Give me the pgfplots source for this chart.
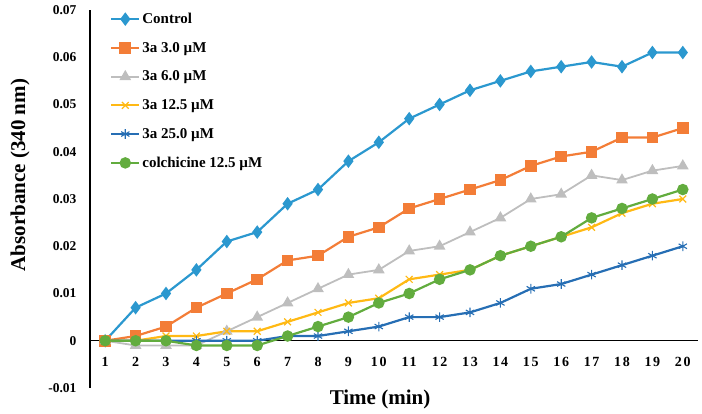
\documentclass[border=0pt]{standalone}
\usepackage{pgfplots}
\pgfplotsset{compat=1.18}
\usepackage{fontspec}
\setmainfont{Liberation Serif}
\newfontfamily\xtickfont[LetterSpace=12]{Liberation Serif}
\definecolor{cCtrl}{RGB}{43,152,207}
\definecolor{cOr}{RGB}{243,125,55}
\definecolor{cGr}{RGB}{190,190,190}
\definecolor{cYe}{RGB}{255,185,20}
\definecolor{cDb}{RGB}{38,110,180}
\definecolor{cGn}{RGB}{98,172,62}
\begin{document}
\begin{tikzpicture}
\useasboundingbox (-90pt,-26pt) rectangle (612pt,388pt);
\begin{axis}[
  at={(0pt,0pt)}, anchor=south west,
  scale only axis, width=608pt, height=378pt,
  xmin=0.5, xmax=20.5, ymin=-0.01, ymax=0.07,
  axis x line=middle, axis y line=left,
  axis line style={black, line width=1.3pt, -},
  xtick={1,...,20}, ytick={-0.01,0,0.01,0.02,0.03,0.04,0.05,0.06,0.07},
  yticklabels={-0.01,0,0.01,0.02,0.03,0.04,0.05,0.06,0.07},
  scaled y ticks=false,
  major tick length=0pt,
  /pgf/number format/assume math mode=true,
  yticklabel style={font=\fontsize{13.5}{13.5}\selectfont\bfseries, xshift=-10pt},
  xticklabel style={font=\fontsize{14}{14}\selectfont\xtickfont\bfseries, yshift=-13pt},
  xlabel={Time (min)}, ylabel={Absorbance (340 nm)},
  label style={font=\fontsize{21}{21}\selectfont\bfseries},
  xlabel style={at={(axis description cs:0.477,0)}, anchor=base, yshift=-17pt},
  ylabel style={at={(axis description cs:0,0.563)}, anchor=center, yshift=70pt},
  legend style={at={(20pt,377pt)}, anchor=north west, draw=none, fill=none,
    font=\fontsize{15}{15}\selectfont\bfseries, row sep=13.2pt, inner sep=0pt,
    nodes={inner sep=2pt}},
  legend cell align=left,
  legend image code/.code={\draw[mark repeat=2,mark phase=2] plot coordinates {(0pt,0pt) (14pt,0pt) (28pt,0pt)};},
  every axis plot/.append style={line width=2.2pt},
  clip=false,
]
\addplot[cCtrl, mark=diamond*, mark size=5pt, mark options={solid}] coordinates {
(1,0) (2,0.007) (3,0.010) (4,0.015) (5,0.021) (6,0.023) (7,0.029) (8,0.032) (9,0.038) (10,0.042)
(11,0.047) (12,0.050) (13,0.053) (14,0.055) (15,0.057) (16,0.058) (17,0.059) (18,0.058) (19,0.061) (20,0.061)};
\addlegendentry{Control}
\addplot[cOr, mark=square*, mark size=4.7pt] coordinates {
(1,0) (2,0.001) (3,0.003) (4,0.007) (5,0.010) (6,0.013) (7,0.017) (8,0.018) (9,0.022) (10,0.024)
(11,0.028) (12,0.030) (13,0.032) (14,0.034) (15,0.037) (16,0.039) (17,0.040) (18,0.043) (19,0.043) (20,0.045)};
\addlegendentry{3a 3.0 µM}
\addplot[cGr, mark=triangle*, mark size=5pt, line width=1.8pt] coordinates {
(1,0) (2,-0.001) (3,-0.001) (4,-0.001) (5,0.002) (6,0.005) (7,0.008) (8,0.011) (9,0.014) (10,0.015)
(11,0.019) (12,0.020) (13,0.023) (14,0.026) (15,0.030) (16,0.031) (17,0.035) (18,0.034) (19,0.036) (20,0.037)};
\addlegendentry{3a 6.0 µM}
\addplot[cYe, mark=x, mark size=4.8pt, mark options={line width=1.2pt}] coordinates {
(1,0) (2,0) (3,0.001) (4,0.001) (5,0.002) (6,0.002) (7,0.004) (8,0.006) (9,0.008) (10,0.009)
(11,0.013) (12,0.014) (13,0.015) (14,0.018) (15,0.020) (16,0.022) (17,0.024) (18,0.027) (19,0.029) (20,0.030)};
\addlegendentry{3a 12.5 µM}
\addplot[cDb, mark=asterisk, mark size=4.8pt, mark options={line width=1.1pt}] coordinates {
(1,0) (2,0) (3,0) (4,0) (5,0) (6,0) (7,0.001) (8,0.001) (9,0.002) (10,0.003)
(11,0.005) (12,0.005) (13,0.006) (14,0.008) (15,0.011) (16,0.012) (17,0.014) (18,0.016) (19,0.018) (20,0.020)};
\addlegendentry{3a 25.0 µM}
\addplot[cGn, mark=*, mark size=4.6pt] coordinates {
(1,0) (2,0) (3,0) (4,-0.001) (5,-0.001) (6,-0.001) (7,0.001) (8,0.003) (9,0.005) (10,0.008)
(11,0.010) (12,0.013) (13,0.015) (14,0.018) (15,0.020) (16,0.022) (17,0.026) (18,0.028) (19,0.030) (20,0.032)};
\addlegendentry{colchicine 12.5 µM}
\end{axis}
\end{tikzpicture}
\end{document}
